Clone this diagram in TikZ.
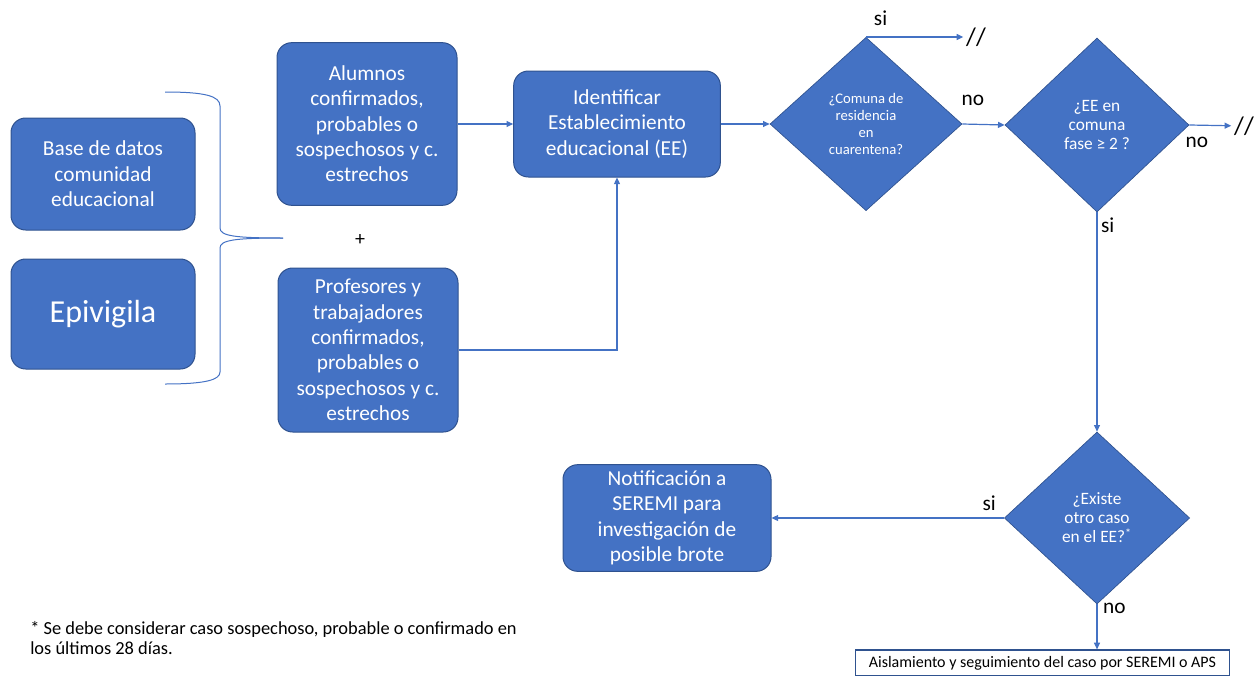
\documentclass[tikz,border=0pt]{standalone}
\usepackage{fontspec}
\setmainfont{Carlito}
\usetikzlibrary{shapes.geometric,arrows.meta}
\definecolor{fcblue}{HTML}{4472C4}
\definecolor{fcborder}{HTML}{2F528F}
\tikzset{
  process/.style={rectangle, rounded corners=11pt, fill=fcblue, draw=fcborder, line width=0.75pt, text=white, align=center, font=\fontsize{16}{19}\selectfont, inner sep=0pt},
  decision/.style={diamond, fill=fcblue, draw=fcborder, line width=0.5pt, text=white, align=center, inner sep=0pt},
  flow/.style={draw=fcblue, line width=0.9pt, -{Triangle[length=5pt,width=4.5pt]}},
  answer/.style={font=\fontsize{16}{18}\selectfont},
  skipmark/.style={font=\fontsize{19}{22}\selectfont, inner sep=2pt},
}
\newcommand{\fcprocessnode}[5] {\node at (#1) (#2) [process, minimum width=#3, minimum height=#4] {#5};}
\newcommand{\fcdecisionnode}[6] {\node at (#1) (#2) [decision, minimum width=#3, minimum height=#4, font=#5] {#6};}

\begin{document}
\begin{tikzpicture}[x=0.75pt, y=-0.75pt]
\clip (0,0) rectangle (1257,675);

\fcprocessnode {103,174} {basedatos} {138pt} {84pt} {Base de datos\\comunidad\\educacional};
\fcprocessnode {103,314} {epivigila} {138pt} {82.5pt} {\fontsize{24}{28}\selectfont Epivigila};
\fcprocessnode {367,124} {alumnos} {135pt} {122pt} {Alumnos\\confirmados,\\probables o\\sospechosos y c.\\estrechos};
\fcprocessnode {368,350} {profesores} {135pt} {123pt} {Profesores y\\trabajadores\\confirmados,\\probables o\\sospechosos y c.\\estrechos};
\fcprocessnode {617,124} {identificar} {155pt} {79.5pt} {Identificar\\Establecimiento\\educacional (EE)};
\fcprocessnode {667,518} {notificacion} {156pt} {80pt} {Notificación a\\SEREMI para\\investigación de\\posible brote};

\fcdecisionnode {866,124} {comuna} {144pt} {130pt} {\fontsize{11}{12.75}\selectfont} {¿Comuna de\\residencia\\en\\cuarentena?};
\fcdecisionnode {1097,125} {fase} {138pt} {130.5pt} {\fontsize{13}{14.25}\selectfont} {¿EE en\\comuna\\fase ≥ 2 ?};
\fcdecisionnode {1097,518} {otrocaso} {139pt} {129pt} {\fontsize{13}{14.25}\selectfont} {¿Existe\\otro caso\\en el EE?\textsuperscript{*}};

\node at (976,37) (skipA) [skipmark] {//};
\node at (1244,126) (skipB) [skipmark] {//};
\node at (360,240) (plus) [font=\fontsize{15}{17}\selectfont] {+};

% llave
\draw [fcblue, line width=0.75pt] (165,92) .. controls (205,92) and (220,96) .. (220,106) -- (220,228)
  .. controls (220,236) and (235,238) .. (283,238);
\draw [fcblue, line width=0.75pt] (283,238) .. controls (235,238) and (220,240) .. (220,248) -- (220,372)
  .. controls (220,380) and (205,384) .. (165,384);

\node at (1042.5,663) (aislamiento) [draw=fcborder, line width=0.9pt, fill=white, minimum width=281pt, minimum height=19.5pt, inner sep=0pt, font=\fontsize{12}{13}\selectfont] {Aislamiento y seguimiento del caso por SEREMI o APS};

\node at (30,621) (nota) [anchor=north west, align=left, inner sep=0pt, font=\fontsize{13.8}{15}\selectfont] {* Se debe considerar caso sospechoso, probable o confirmado en\\los últimos 28 días.};

\draw [flow] (alumnos) -- (identificar);
\draw [flow] (profesores.east) -| (identificar.south);
\draw [flow] (identificar) -- (comuna);
\draw [flow] (comuna.north) -- node [answer, pos=0.15, yshift=14pt] {si} (skipA);
\draw [flow] (comuna.east) -- node [answer, pos=0.25, yshift=18pt] {no} (fase.west);
\draw [flow] (fase.east) -- node [answer, pos=0.18, yshift=-13pt] {no} (skipB);
\draw [flow] (fase.south) -- node [answer, pos=0.06, xshift=8pt] {si} (otrocaso.north);
\draw [flow] (otrocaso.west) -- node [answer, pos=0.064, yshift=11pt] {si} (notificacion.east);
\draw [flow] (otrocaso.south) -- node [answer, pos=0.09, xshift=13pt] {no} (otrocaso.south |- aislamiento.north);

\end{tikzpicture}
\end{document}
